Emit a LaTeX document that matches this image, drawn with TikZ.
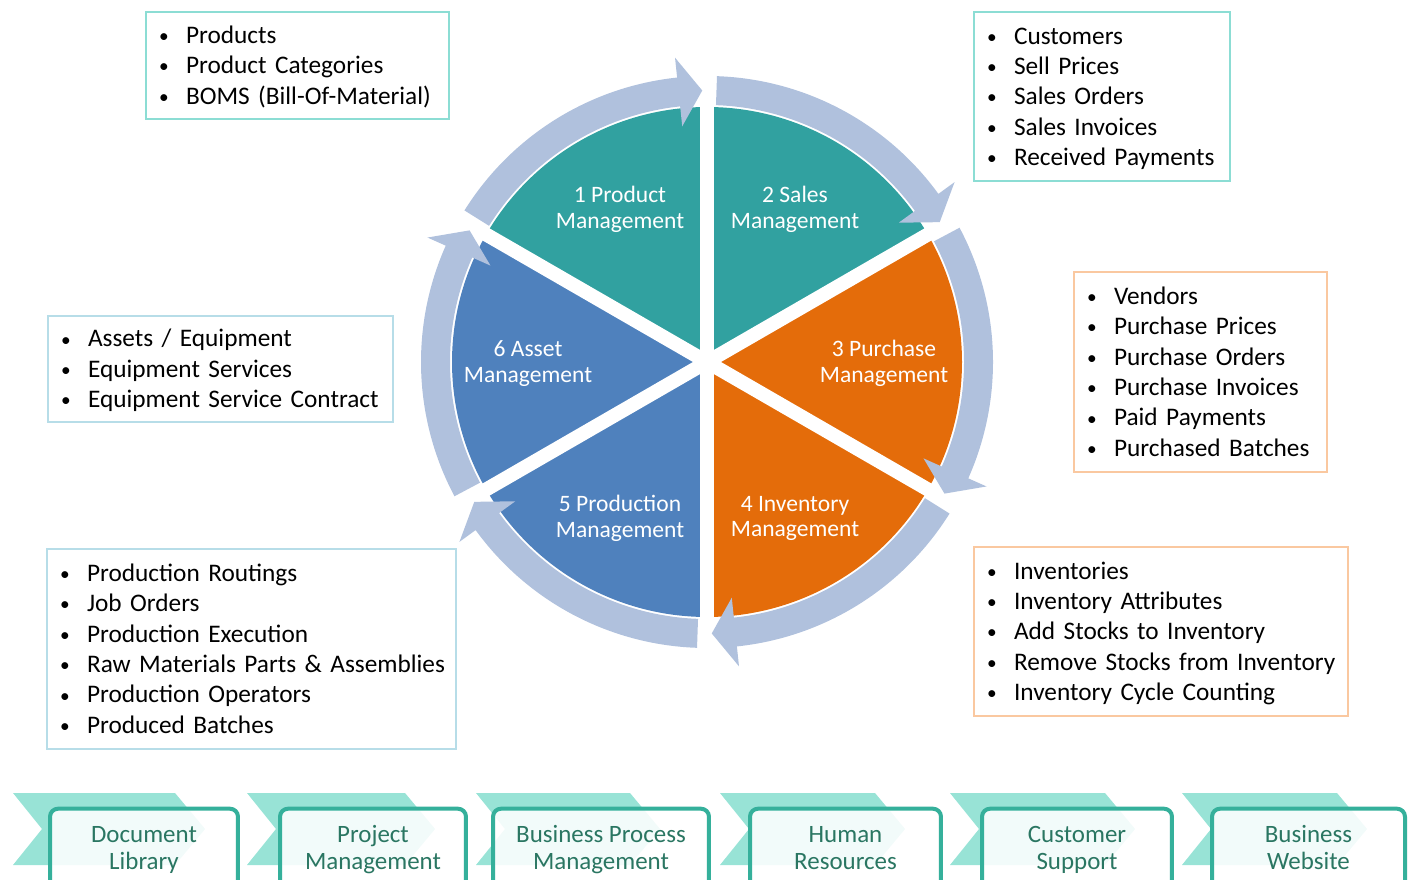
\documentclass[tikz,border=0pt]{standalone}
\usepackage{fontspec}
\setmainfont{Carlito}
\usepackage{tikz}

\definecolor{wedgeteal}{RGB}{49,161,160}
\definecolor{wedgeblue}{RGB}{79,129,189}
\definecolor{wedgeorange}{RGB}{228,108,10}
\definecolor{cyclearrow}{RGB}{176,193,221}
\definecolor{boxteal}{RGB}{140,221,212}
\definecolor{boxblue}{RGB}{183,221,232}
\definecolor{boxorange}{RGB}{250,200,160}
\definecolor{chevron}{RGB}{152,227,214}
\definecolor{modborder}{RGB}{53,176,155}
\definecolor{modtext}{RGB}{42,118,98}

% bullet line inside a list box
\newcommand{\itm}[1]{\mbox{\makebox[0.54cm][l]{\raisebox{0.5pt}{\fontsize{11}{11}\selectfont\textbullet}}#1}}

\tikzset{
  listbox/.style={draw=#1, line width=0.04cm, fill=white, align=left,
    inner xsep=0.26cm, inner ysep=0pt,
    font=\fontsize{14.4}{17.3}\selectfont,
    execute at begin node={\rule{0pt}{12.7pt}},
    execute at end node={\rule[-3.2pt]{0pt}{3.2pt}}},
  wedgelabel/.style={text=white, align=center,
    font=\fontsize{13.4}{14.7}\selectfont},
  modulebox/.style={draw=modborder, line width=0.08cm, rounded corners=0.16cm,
    fill=white, fill opacity=0.88, text opacity=1, text=modtext,
    align=center, minimum height=1.66cm,
    font=\fontsize{14.2}{15.5}\selectfont},
}

\begin{document}
\begin{tikzpicture}[x=0.02cm, y=0.02cm]
  \clip (0,0) rectangle (1409,879);

  % Sizes
  \pgfmathsetmacro{\rwedge}{255}
  \pgfmathsetmacro{\rin}{257}
  \pgfmathsetmacro{\rout}{286}

  \begin{scope}[shift={(707,517)}]
    % wedges
    \foreach \a/\col in {90/wedgeteal, 30/wedgeteal, -30/wedgeorange,
                         -90/wedgeorange, -150/wedgeblue, 150/wedgeblue}
      \fill[\col] (0,0) -- (\a:\rwedge)
        arc[start angle=\a, end angle=\a+60, radius=\rwedge] -- cycle;
    % gaps
    \foreach \a in {30,90,...,330}
      \draw[white, line width=0.28cm] (0,0) -- (\a:\rwedge+3);
    % cycle arrows
    \foreach \k in {0,...,5} {
      \pgfmathsetmacro{\sa}{148-60*\k}
      \pgfmathsetmacro{\ba}{96-60*\k}
      \pgfmathsetmacro{\ta}{91-60*\k}
      \fill[cyclearrow] (\sa:\rout)
        arc[start angle=\sa, end angle=\ba, radius=\rout]
        -- (\ba:306) -- (\ta:271.5) -- (\ba:237) -- (\ba:\rin)
        arc[start angle=\ba, end angle=\sa, radius=\rin] -- cycle;
    }
  \end{scope}

  % wedge labels
  \node (wlab1) [wedgelabel] at (620,670) {1 Product\\Management};
  \node (wlab2) [wedgelabel] at (795,670) {2 Sales\\Management};
  \node (wlab3) [wedgelabel] at (884,515.5) {3 Purchase\\Management};
  \node (wlab4) [wedgelabel] at (795,360.5) {4 Inventory\\Management};
  \node (wlab5) [wedgelabel] at (620,360.5) {5 Production\\Management};
  \node (wlab6) [wedgelabel] at (528,515.5) {6 Asset\\Management};

  % lists
  \node (prodlist) [listbox=boxteal, text width=5.54cm, minimum height=2.14cm]
    at (297.5,813.5)
    {\itm{Products}\\ \itm{Product Categories}\\ \itm{BOMS (Bill-Of-Material)}};
  \node (salelist) [listbox=boxteal, text width=4.6cm, minimum height=3.38cm]
    at (1102,782.5)
    {\itm{Customers}\\ \itm{Sell Prices}\\ \itm{Sales Orders}\\
     \itm{Sales Invoices}\\ \itm{Received Payments}};
  \node (purclist) [listbox=boxorange, text width=4.54cm, minimum height=4cm]
    at (1200.5,507)
    {\itm{Vendors}\\ \itm{Purchase Prices}\\ \itm{Purchase Orders}\\
     \itm{Purchase Invoices}\\ \itm{Paid Payments}\\ \itm{Purchased Batches}};
  \node (invlist) [listbox=boxorange, text width=6.96cm, minimum height=3.38cm]
    at (1161,247.5)
    {\itm{Inventories}\\ \itm{Inventory Attributes}\\ \itm{Add Stocks to Inventory}\\
     \itm{Remove Stocks from Inventory}\\ \itm{Inventory Cycle Counting}};
  \node (prodnlist) [listbox=boxblue, text width=7.66cm, minimum height=4cm]
    at (251.5,230)
    {\itm{Production Routings}\\ \itm{Job Orders}\\ \itm{Production Execution}\\
     \itm{Raw Materials Parts \& Assemblies}\\ \itm{Production Operators}\\
     \itm{Produced Batches}};
  \node (assetlist) [listbox=boxblue, text width=6.38cm, minimum height=2.12cm]
    at (220.5,510)
    {\itm{Assets / Equipment}\\ \itm{Equipment Services}\\
     \itm{Equipment Service Contract}};

  % modules
  \foreach \chl/\chr/\bx/\bw/\txt [count=\i] in {
      13/175/144/3.76cm/{Document\\Library},
      247/405/373/3.72cm/{Project\\Management},
      476/630/601/4.32cm/{Business Process\\Management},
      720/875/845.5/3.82cm/{Human\\Resources},
      950/1105/1077/3.8cm/{Customer\\Support},
      1182/1337/1308.5/3.86cm/{Business\\Website}} {
    \fill[chevron] (\chl,86) -- (\chr,86) -- (\chr+30,50) -- (\chr,14)
      -- (\chl,14) -- (\chl+29,50) -- cycle;
    \node (mod\i) [modulebox, minimum width=\bw] at (\bx,28.8) {\strut\txt\strut};
  }
\end{tikzpicture}
\end{document}
